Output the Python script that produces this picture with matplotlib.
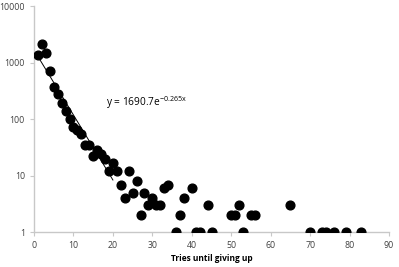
import numpy as np
import matplotlib
matplotlib.use('Agg')
import matplotlib.pyplot as plt

# tries until giving up vs number of people
tries = [1, 2, 3, 4, 5, 6, 7, 8, 9, 10, 11, 12, 13, 14, 15, 16, 17, 18, 19, 20,
         21, 22, 23, 24, 25, 26, 27, 28, 29, 30, 31, 32, 33, 34, 36, 37, 38, 40,
         41, 42, 44, 45, 50, 51, 52, 53, 55, 56, 65, 70, 73, 74, 76, 79, 83]
counts = [1380, 2200, 1470, 725, 368, 280, 192, 140, 101, 74, 65, 55, 35, 35, 22, 29, 24, 20, 12, 17,
          12, 7, 4, 12, 5, 8, 2, 5, 3, 4, 3, 3, 6, 7, 1, 2, 4, 6,
          1, 1, 3, 1, 2, 2, 3, 1, 2, 2, 3, 1, 1, 1, 1, 1, 1]

fit_a = 1690.7
fit_b = -0.265
fit_range = [1, 20]

plt.rcParams['font.family'] = ['Open Sans', 'DejaVu Sans']
plt.rcParams['mathtext.default'] = 'regular'

fig = plt.figure(figsize=(3.99, 2.67), dpi=100)
ax = fig.add_axes([0.0852, 0.130, 0.890, 0.846])

ax.plot(tries, counts, 'o', color='black', markersize=6.3, zorder=3)

xf = np.linspace(fit_range[0], fit_range[1], 100)
ax.plot(xf, fit_a * np.exp(fit_b * xf), color='black', linewidth=0.7, zorder=2)

ax.text(18.3, 200, r'y = 1690.7e$^{-0.265x}$', fontsize=7.3, va='center', ha='left')

ax.set_yscale('log')
ax.set_ylim(1, 10000)
ax.set_xlim(0, 90)
ax.set_xticks(range(0, 91, 10))
ax.set_yticks([1, 10, 100, 1000, 10000])
ax.set_yticklabels(['1', '10', '100', '1000', '10000'])
ax.minorticks_off()
ax.set_xlabel('Tries until giving up', fontsize=6, fontweight='bold', labelpad=3)

for s in ['top', 'right']:
    ax.spines[s].set_visible(False)
for s in ['left', 'bottom']:
    ax.spines[s].set_color('#c8c8c8')
    ax.spines[s].set_linewidth(1)
ax.tick_params(axis='both', colors='#c8c8c8', labelcolor='#404040', labelsize=6.3, length=3, width=0.8)

plt.savefig('out.png', dpi=100)
